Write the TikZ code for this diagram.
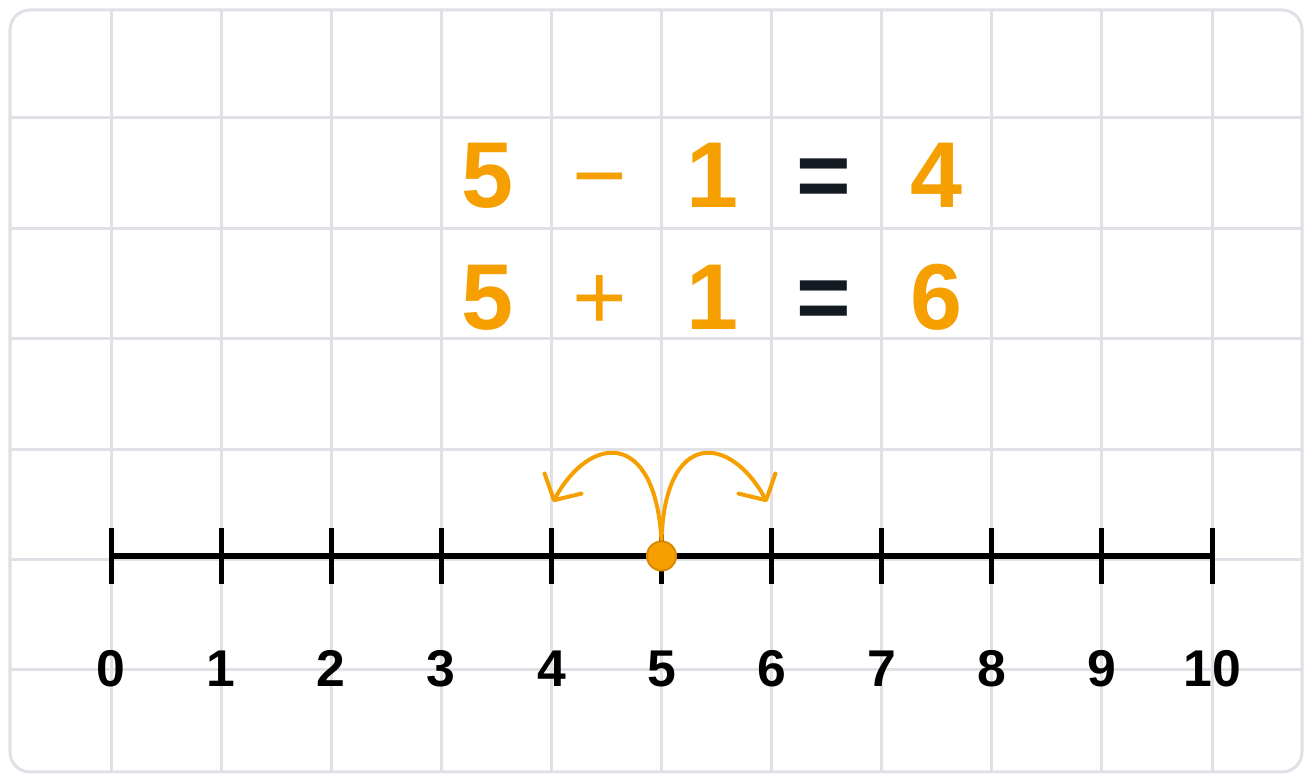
\documentclass[tikz,border=0pt]{standalone}
\usepackage{fontspec}
\setmainfont{Liberation Sans}
\usetikzlibrary{arrows.meta}
\definecolor{hoporange}{HTML}{F5A000}
\definecolor{dotedge}{HTML}{D98A00}
\definecolor{gridgray}{HTML}{DFE1E6}
\definecolor{inkblack}{HTML}{141A22}

\begin{document}
\begin{tikzpicture}[
    x=0.01cm, y=0.01cm,
    gridline/.style={draw=gridgray, line width=0.03cm},
    numline/.style={draw=black, line width=0.06cm},
    tickmark/.style={draw=black, line width=0.05cm},
    numlabel/.style={font=\fontsize{14.7pt}{16pt}\selectfont\bfseries, anchor=base, inner sep=0pt},
    eqdigit/.style={font=\fontsize{26.6pt}{30pt}\selectfont\bfseries, text=hoporange, anchor=base, inner sep=0pt},
    eqop/.style={font=\fontsize{26.6pt}{30pt}\selectfont, text=hoporange, anchor=base, inner sep=0pt},
    eqsign/.style={eqdigit, text=inkblack},
    hop/.style={draw=hoporange, line width=0.04cm, -{Straight Barb[length=0.19cm, width=0.42cm, round]}},
    startdot/.style={circle, fill=hoporange, draw=dotedge, line width=0.02cm, minimum size=0.29cm, inner sep=0pt}
  ]
    \useasboundingbox (0,0) rectangle (1304,774);

    % paper and grid
    \fill[white] (0,0) rectangle (1304,774);
    \begin{scope}
      \clip[rounded corners=0.2cm] (10,2) rectangle (1302,764);
      \foreach \k in {0,...,10}
        \draw[gridline] ({111+110.1*\k},0) -- ++(0,774);
      \foreach \k in {0,...,5}
        \draw[gridline] (0,{656-110.4*\k}) -- ++(1304,0);
    \end{scope}
    \draw[draw=gridgray, line width=0.03cm, rounded corners=0.2cm] (10,2) rectangle (1302,764);

    % equations
    \node[eqdigit] (a1) at (488,566) {5};
    \node[eqop]    (a2) at (600,566) {−};
    \node[eqdigit] (a3) at (712,566) {1};
    \node[eqsign]  (a4) at (824,566) {=};
    \node[eqdigit] (a5) at (936,566) {4};

    \node[eqdigit] (b1) at (488,444) {5};
    \node[eqop]    (b2) at (600,444) {+};
    \node[eqdigit] (b3) at (712,444) {1};
    \node[eqsign]  (b4) at (824,444) {=};
    \node[eqdigit] (b5) at (936,444) {6};

    % number line
    \foreach \k in {0,...,10} {
      \coordinate (t\k) at ({111+110.1*\k},218);
      \node[numlabel] (n\k) at ({111+110.1*\k},87) {\k};
    }
    \draw[numline] (t0) -- (t10);
    \foreach \k in {0,...,10}
      \draw[tickmark] (t\k) ++(0,28) -- ++(0,-56);

    % hops from 5
    \node[startdot] (start) at (t5) {};
    \coordinate (leftend) at (553,272);
    \coordinate (rightend) at (767,272);
    \draw[hop] (start.north) .. controls (655,345) and (590,340) .. (leftend);
    \draw[hop] (start.north) .. controls (665,345) and (730,340) .. (rightend);
  \end{tikzpicture}
\end{document}
